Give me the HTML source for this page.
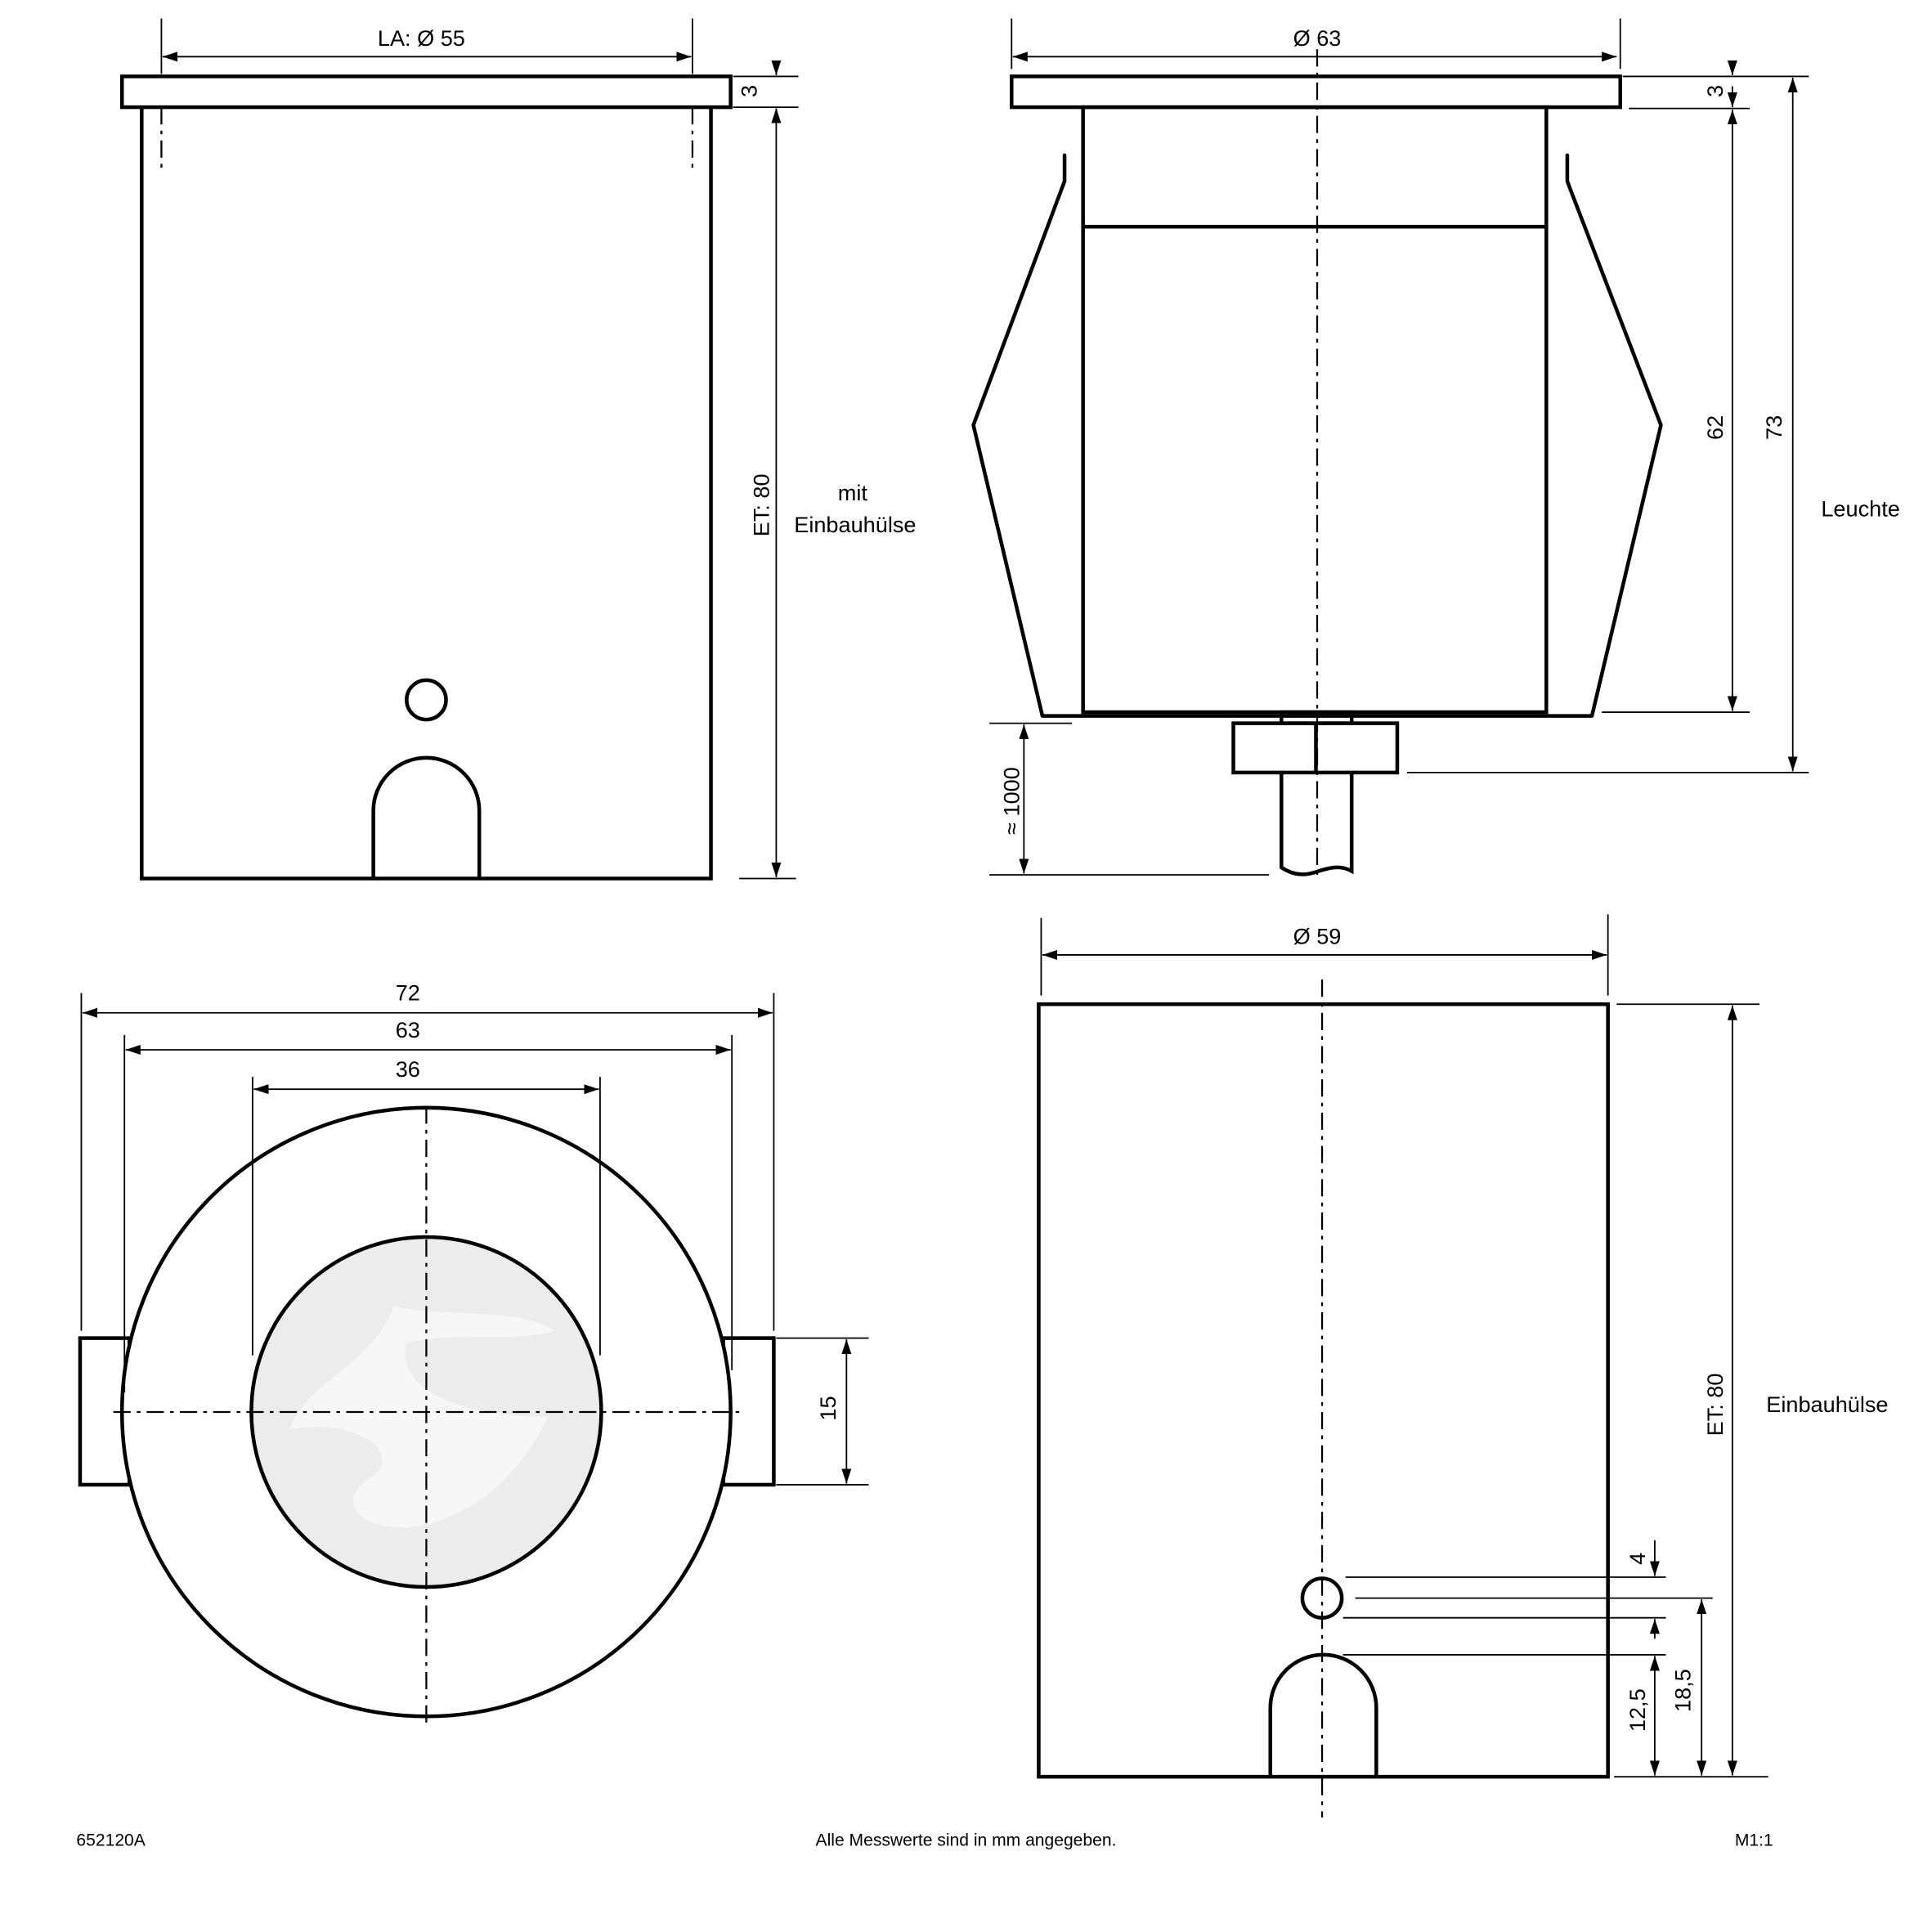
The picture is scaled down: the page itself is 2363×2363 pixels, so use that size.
<!DOCTYPE html>
<html><head><meta charset="utf-8"><style>
html,body{margin:0;padding:0;background:#fff}
svg{display:block}
text{font-family:"Liberation Sans",sans-serif;fill:#000}
</style></head><body>
<svg width="2363" height="2363" viewBox="0 0 1568 1568" xmlns="http://www.w3.org/2000/svg">
<defs>
<marker id="a" viewBox="0 0 12 8" refX="12" refY="4" markerWidth="12" markerHeight="8" markerUnits="userSpaceOnUse" orient="auto-start-reverse"><path d="M0 0L12 4L0 8Z" fill="#000"/></marker>
</defs>
<g fill="none" stroke="#000" stroke-width="3">
<rect x="99" y="62" width="494" height="25"/>
<path d="M115 87V713H577V87"/>
<circle cx="346" cy="568" r="16"/>
<path d="M303 713V658A43 43 0 0 1 389 658V713"/>
<rect x="821" y="62" width="494" height="25"/>
<rect x="879" y="87" width="376" height="491"/>
<line x1="879" y1="184" x2="1255" y2="184"/>
<path d="M864 126V147L861 155L790 345L846 581H1292L1348 345L1275 155L1272 147V126" stroke-linecap="round" stroke-linejoin="round"/>
<rect x="1040" y="578" width="57" height="9"/>
<rect x="1001" y="587" width="133" height="40"/>
<line x1="1068" y1="587" x2="1068" y2="627"/>
<path d="M1040 627V704C1052 712 1062 710 1070 707C1080 704 1088 702 1097 707V627"/>
<rect x="65" y="1086" width="40" height="119"/>
<rect x="587" y="1086" width="41" height="119"/>
<circle cx="346" cy="1146" r="247" fill="#fff"/>
<circle cx="346" cy="1146" r="142" fill="#ececec"/>
<rect x="843" y="815" width="462" height="627"/>
<circle cx="1073" cy="1297" r="16"/>
<path d="M1031 1442V1386A43 43 0 0 1 1117 1386V1442"/>
</g>
<path d="M320 1060C300 1110 250 1120 235 1160C290 1150 330 1180 300 1200C275 1215 285 1240 330 1240C380 1235 420 1200 445 1150C380 1150 320 1130 330 1090C370 1080 420 1090 450 1080C420 1060 360 1070 320 1060Z" fill="#f7f7f7"/>
<g stroke="#000" stroke-width="1.5" stroke-dasharray="14,5,3,5" fill="none">
<line x1="131" y1="87" x2="131" y2="137"/>
<line x1="562" y1="87" x2="562" y2="137"/>
<line x1="1069" y1="40" x2="1069" y2="710"/>
<line x1="92" y1="1146" x2="600" y2="1146"/>
<line x1="346" y1="898" x2="346" y2="1400"/>
<line x1="1073" y1="795" x2="1073" y2="1475"/>
</g>
<g stroke="#000" stroke-width="1.2" fill="none">
<line x1="131" y1="15" x2="131" y2="60"/><line x1="562" y1="15" x2="562" y2="60"/>
<line x1="595" y1="62" x2="648" y2="62"/><line x1="595" y1="87" x2="648" y2="87"/><line x1="600" y1="713" x2="646" y2="713"/>
<line x1="821" y1="15" x2="821" y2="56"/><line x1="1315" y1="15" x2="1315" y2="56"/>
<line x1="1317" y1="62" x2="1468" y2="62"/><line x1="1322" y1="88" x2="1420" y2="88"/>
<line x1="1300" y1="578" x2="1420" y2="578"/><line x1="1142" y1="627" x2="1468" y2="627"/>
<line x1="803" y1="587" x2="870" y2="587"/><line x1="803" y1="710" x2="1030" y2="710"/>
<line x1="66" y1="806" x2="66" y2="1080"/><line x1="628" y1="806" x2="628" y2="1080"/>
<line x1="101" y1="840" x2="101" y2="1130"/><line x1="594" y1="840" x2="594" y2="1112"/>
<line x1="205" y1="874" x2="205" y2="1100"/><line x1="487" y1="874" x2="487" y2="1100"/>
<line x1="630" y1="1086" x2="705" y2="1086"/><line x1="630" y1="1205" x2="705" y2="1205"/>
<line x1="845" y1="745" x2="845" y2="808"/><line x1="1305" y1="742" x2="1305" y2="808"/>
<line x1="1312" y1="815" x2="1428" y2="815"/><line x1="1310" y1="1442" x2="1435" y2="1442"/>
<line x1="1092" y1="1280" x2="1352" y2="1280"/><line x1="1100" y1="1297" x2="1390" y2="1297"/>
<line x1="1090" y1="1313" x2="1352" y2="1313"/><line x1="1090" y1="1343" x2="1352" y2="1343"/>
</g>
<g stroke="#000" stroke-width="1.2" fill="none" marker-start="url(#a)" marker-end="url(#a)">
<line x1="132" y1="46" x2="561" y2="46"/>
<line x1="630" y1="88" x2="630" y2="712"/>
<line x1="822" y1="46" x2="1312" y2="46"/>
<line x1="1406" y1="89" x2="1406" y2="577"/>
<line x1="1455" y1="63" x2="1455" y2="626"/>
<line x1="831" y1="588" x2="831" y2="709"/>
<line x1="67" y1="822" x2="627" y2="822"/>
<line x1="102" y1="852" x2="593" y2="852"/>
<line x1="206" y1="884" x2="486" y2="884"/>
<line x1="687" y1="1087" x2="687" y2="1204"/>
<line x1="846" y1="775" x2="1304" y2="775"/>
<line x1="1406" y1="816" x2="1406" y2="1441"/>
<line x1="1381" y1="1298" x2="1381" y2="1441"/>
<line x1="1343" y1="1344" x2="1343" y2="1441"/>
</g>
<g stroke="#000" stroke-width="1.2" fill="none" marker-end="url(#a)">
<line x1="630" y1="52" x2="630" y2="61"/><line x1="630" y1="97" x2="630" y2="88"/>
<line x1="1406" y1="52" x2="1406" y2="61"/><line x1="1406" y1="70" x2="1406" y2="87"/>
<line x1="1343" y1="1250" x2="1343" y2="1279"/><line x1="1343" y1="1330" x2="1343" y2="1314"/>
</g>
<g font-size="18" text-anchor="middle">
<text x="342" y="37">LA: Ø 55</text>
<text x="1069" y="37">Ø 63</text>
<text x="692" y="406">mit</text>
<text x="694" y="432">Einbauhülse</text>
<text x="1510" y="419">Leuchte</text>
<text x="331" y="812">72</text>
<text x="331" y="842">63</text>
<text x="331" y="874">36</text>
<text x="1069" y="766">Ø 59</text>
<text x="1483" y="1146">Einbauhülse</text>
<text transform="translate(624,410) rotate(-90)">ET: 80</text>
<text transform="translate(614,74) rotate(-90)">3</text>
<text transform="translate(1398,74) rotate(-90)">3</text>
<text transform="translate(1398,347) rotate(-90)">62</text>
<text transform="translate(1446,347) rotate(-90)">73</text>
<text transform="translate(827,650) rotate(-90)">≈ 1000</text>
<text transform="translate(678,1143) rotate(-90)">15</text>
<text transform="translate(1398,1140) rotate(-90)">ET: 80</text>
<text transform="translate(1335,1265) rotate(-90)">4</text>
<text transform="translate(1335,1388) rotate(-90)">12,5</text>
<text transform="translate(1372,1372) rotate(-90)">18,5</text>
</g>
<g font-size="14">
<text x="62" y="1498">652120A</text>
<text x="784" y="1498" text-anchor="middle">Alle Messwerte sind in mm angegeben.</text>
<text x="1408" y="1498">M1:1</text>
</g>
</svg>
</body></html>
